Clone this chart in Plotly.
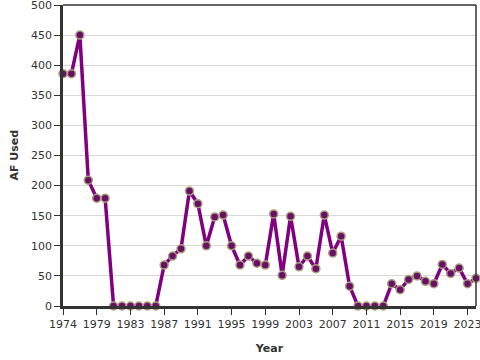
import plotly.graph_objects as go

years = list(range(1975, 2025))
af_used = [386, 386, 450, 209, 179, 179, 0, 0, 0, 0, 0, 0,
           68, 83, 95, 191, 170, 100, 148, 151, 100, 68, 83, 71, 68,
           153, 51, 149, 65, 83, 62, 151, 88, 116, 33, 0, 0, 0, 0,
           37, 27, 44, 50, 41, 37, 69, 54, 63, 37, 46]
tick_vals = list(range(1975, 2024, 4))
tick_text = ["1974"] + [str(v) for v in tick_vals[1:]]
y_ticks = list(range(0, 501, 50))

fig = go.Figure()
fig.add_trace(go.Scatter(
    x=years, y=af_used, mode="lines+markers",
    line=dict(color="#800080", width=3.5),
    marker=dict(size=8, color="#6a0f68", line=dict(color="#a8a07c", width=1.5)),
    cliponaxis=False, showlegend=False,
))

font = dict(family="DejaVu Sans", size=11, color="#333")
title_font = dict(family="DejaVu Sans", size=11, color="#333")
fig.update_layout(
    width=480, height=360,
    margin=dict(l=63, r=4, t=5, b=54),
    paper_bgcolor="white", plot_bgcolor="white",
    font=font,
    xaxis=dict(
        range=[1975, 2024], tickvals=tick_vals, ticktext=tick_text,
        showgrid=False, zeroline=False, automargin=False,
        showline=True, linecolor="#333", linewidth=2.5,
        ticks="outside", ticklen=6, tickcolor="#333", tickwidth=1,
        ticklabeloverflow="allow",
        title=dict(text="<b>Year</b>", font=title_font),
    ),
    yaxis=dict(
        range=[0, 500], tickvals=y_ticks, automargin=False,
        showgrid=True, gridcolor="#d8d8d8", gridwidth=1, zeroline=False,
        showline=True, linecolor="#333", linewidth=2.5,
        ticks="outside", ticklen=6, tickcolor="#333", tickwidth=1,
        ticklabeloverflow="allow",
    ),
    annotations=[
        dict(text="<b>AF Used</b>", font=title_font, textangle=-90,
             xref="paper", yref="paper", x=-49 / 413, y=0.5,
             xanchor="center", yanchor="middle", showarrow=False),
    ],
    shapes=[
        dict(type="line", xref="paper", yref="paper", x0=1, x1=1, y0=0, y1=1,
             line=dict(color="#333", width=1.5)),
        dict(type="line", xref="paper", yref="paper", x0=0, x1=1, y0=1, y1=1,
             line=dict(color="#333", width=1.5)),
    ],
)
fig.write_html("out.html")
